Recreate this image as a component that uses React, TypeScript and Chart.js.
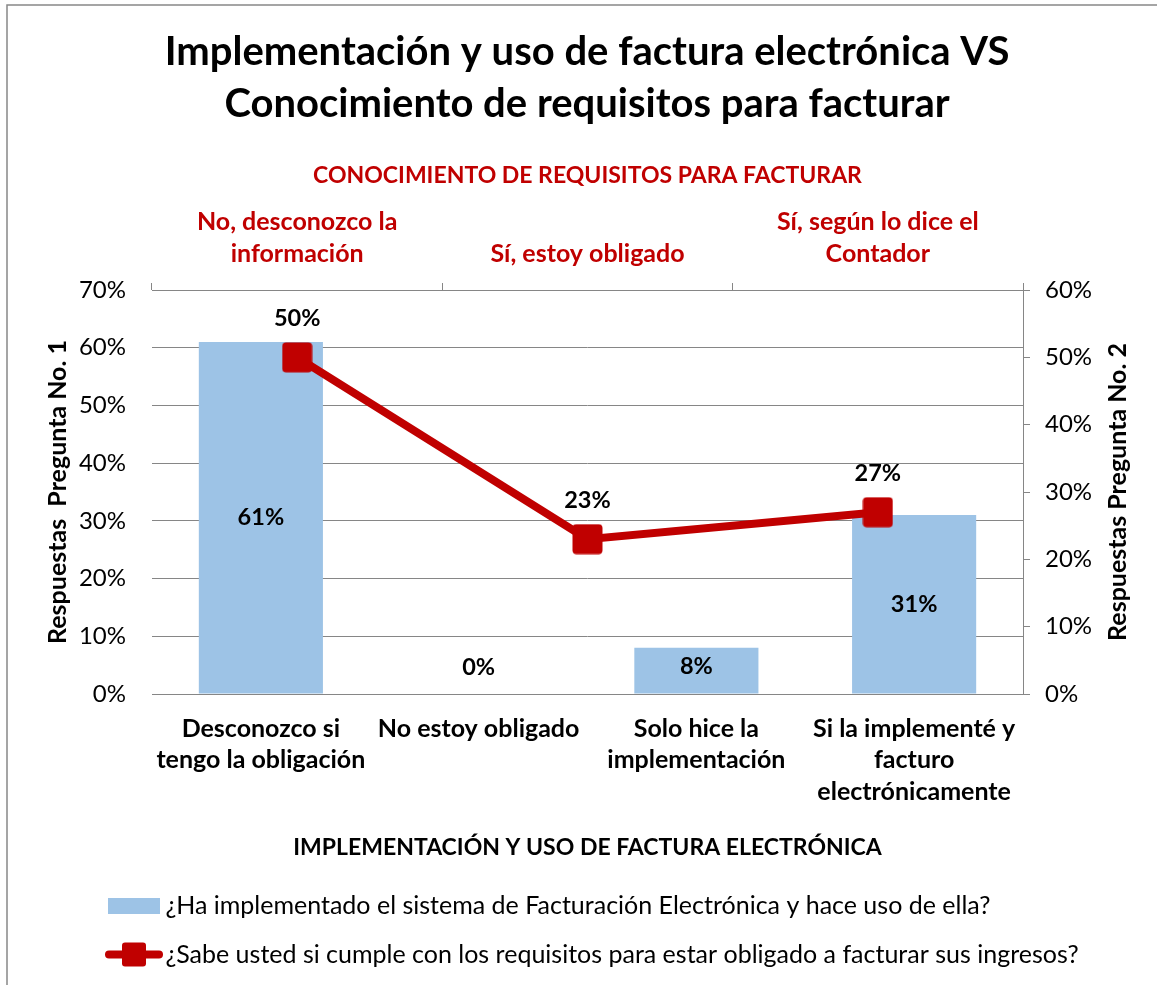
import React, { useEffect, useRef } from 'react';
import { Chart, registerables } from 'chart.js';

Chart.register(...registerables);

// ---------- data ----------
const chartTitle = ['Implementación y uso de factura electrónica VS', 'Conocimiento de requisitos para facturar'];
const barCategories = [
  ['Desconozco si', 'tengo la obligación'],
  ['No estoy obligado'],
  ['Solo hice la', 'implementación'],
  ['Si la implementé y', 'facturo', 'electrónicamente'],
];
const barValues = [61, 0, 8, 31];
const lineCategories = [
  ['No, desconozco la', 'información'],
  ['Sí, estoy obligado'],
  ['Sí, según lo dice el', 'Contador'],
];
const lineValues = [50, 23, 27];
const barSeriesName = '¿Ha implementado el sistema de Facturación Electrónica y hace uso de ella?';
const lineSeriesName = '¿Sabe usted si cumple con los requisitos para estar obligado a facturar sus ingresos?';
const bottomAxisTitle = 'IMPLEMENTACIÓN Y USO DE FACTURA ELECTRÓNICA';
const topAxisTitle = 'CONOCIMIENTO DE REQUISITOS PARA FACTURAR';
const leftAxisTitle = 'Respuestas  Pregunta No. 1';
const rightAxisTitle = 'Respuestas Pregunta No. 2';
const leftAxisMax = 70;
const rightAxisMax = 60;
const axisStep = 10;

// ---------- style ----------
const FONT = "Lato, 'Noto Sans', sans-serif";
const BAR = '#9DC3E6';
const RED = '#C00000';
const GRID = '#868686';
const W = 1157;
const H = 985;

function roundRectPath(ctx: CanvasRenderingContext2D, x: number, y: number, w: number, h: number, r: number) {
  ctx.beginPath();
  ctx.moveTo(x + r, y);
  ctx.lineTo(x + w - r, y);
  ctx.quadraticCurveTo(x + w, y, x + w, y + r);
  ctx.lineTo(x + w, y + h - r);
  ctx.quadraticCurveTo(x + w, y + h, x + w - r, y + h);
  ctx.lineTo(x + r, y + h);
  ctx.quadraticCurveTo(x, y + h, x, y + h - r);
  ctx.lineTo(x, y + r);
  ctx.quadraticCurveTo(x, y, x + r, y);
  ctx.closePath();
}

function makeMarker() {
  const c = document.createElement('canvas');
  c.width = 31;
  c.height = 31;
  const ctx = c.getContext('2d')!;
  ctx.fillStyle = RED;
  roundRectPath(ctx, 0.5, 0.5, 30, 30, 4);
  ctx.fill();
  return c;
}

// legend icons (wide transparent canvas so the symbol sits where the reference has it)
function makeBarIcon() {
  const c = document.createElement('canvas');
  c.width = 136;
  c.height = 27;
  const ctx = c.getContext('2d')!;
  ctx.fillStyle = BAR;
  ctx.fillRect(79, 6, 52, 16);
  return c;
}

function makeLineIcon() {
  const c = document.createElement('canvas');
  c.width = 136;
  c.height = 27;
  const ctx = c.getContext('2d')!;
  ctx.strokeStyle = RED;
  ctx.lineWidth = 8;
  ctx.lineCap = 'round';
  ctx.beginPath();
  ctx.moveTo(80, 13.5);
  ctx.lineTo(130, 13.5);
  ctx.stroke();
  ctx.fillStyle = RED;
  roundRectPath(ctx, 93, 1.5, 24, 24, 3);
  ctx.fill();
  return c;
}

const pct = (v: number | string) => `${v}%`;

const framePlugin = {
  id: 'frame',
  beforeDraw(chart: any) {
    const ctx = chart.ctx;
    ctx.save();
    ctx.fillStyle = '#fff';
    ctx.fillRect(0, 0, chart.width, chart.height);
    ctx.strokeStyle = '#888';
    ctx.lineWidth = 1.5;
    ctx.beginPath();
    ctx.moveTo(7, chart.height + 2);
    ctx.lineTo(7, 5);
    ctx.lineTo(chart.width + 2, 5);
    ctx.stroke();
    ctx.restore();
  },
};

const labelsPlugin = {
  id: 'valueLabels',
  afterDatasetsDraw(chart: any) {
    const ctx = chart.ctx;
    ctx.save();
    ctx.font = `bold 23.5px ${FONT}`;
    ctx.fillStyle = '#000';
    ctx.textAlign = 'center';
    ctx.textBaseline = 'middle';
    const barMeta = chart.getDatasetMeta(0);
    barMeta.data.forEach((bar: any, i: number) => {
      const { x, y, base } = bar.getProps(['x', 'y', 'base'], true);
      const cy = Math.min((y + base) / 2, base - 27);
      ctx.fillText(pct(barValues[i]), x, cy);
    });
    const lineMeta = chart.getDatasetMeta(1);
    lineMeta.data.forEach((pt: any, i: number) => {
      ctx.fillText(pct(lineValues[i]), pt.x, pt.y - 38.5);
    });
    // right axis title, reading bottom-to-top like the reference
    ctx.font = `bold 25px ${FONT}`;
    const y2 = chart.scales.y2;
    const area = chart.chartArea;
    ctx.translate(y2.left + 95, (area.top + area.bottom) / 2);
    ctx.rotate(-Math.PI / 2);
    ctx.fillText(rightAxisTitle, 0, 0);
    ctx.restore();
  },
};

export default function App() {
  const ref = useRef<HTMLCanvasElement>(null);

  useEffect(() => {
    const canvas = ref.current!;
    const marker = makeMarker();
    const icons = [makeBarIcon(), makeLineIcon()];

    const chart = new Chart(canvas, {
      type: 'bar',
      data: {
        labels: barCategories as any,
        datasets: [
          {
            type: 'bar',
            label: barSeriesName,
            data: barValues,
            backgroundColor: BAR,
            borderWidth: 0,
            xAxisID: 'x',
            yAxisID: 'y',
            grouped: false,
            categoryPercentage: 1,
            barPercentage: 0.57,
            order: 2,
          } as any,
          {
            type: 'line',
            label: lineSeriesName,
            data: lineValues,
            borderColor: RED,
            backgroundColor: RED,
            borderWidth: 8,
            pointStyle: marker,
            pointRadius: 15,
            tension: 0,
            fill: false,
            xAxisID: 'x2',
            yAxisID: 'y2',
            order: 1,
          } as any,
        ],
      },
      options: {
        responsive: false,
        animation: false,
        events: [],
        layout: { padding: { left: 17, right: 0, top: 0, bottom: 8 } },
        font: { family: FONT },
        plugins: {
          title: {
            display: true,
            text: chartTitle,
            color: '#000',
            font: { family: FONT, size: 40, weight: 'bold', lineHeight: 1.3 },
            padding: { top: 26, bottom: 10 },
          },
          legend: {
            display: true,
            position: 'bottom',
            align: 'start',
            labels: {
              usePointStyle: true,
              pointStyleWidth: 112,
              padding: 24,
              color: '#000',
              font: { family: FONT, size: 25 },
              generateLabels: (ch: any) =>
                ch.data.datasets.map((ds: any, i: number) => ({
                  text: ds.label,
                  datasetIndex: i,
                  pointStyle: icons[i],
                  fillStyle: 'rgba(0,0,0,0)',
                  strokeStyle: 'rgba(0,0,0,0)',
                  lineWidth: 0,
                  hidden: false,
                  fontColor: '#000',
                })),
            },
          },
          tooltip: { enabled: false },
        },
        scales: {
          x: {
            type: 'category',
            position: 'bottom',
            offset: true,
            grid: { display: false, drawTicks: false },
            border: { display: true, color: GRID, width: 1 },
            ticks: {
              color: '#000',
              font: { family: FONT, size: 25, weight: 'bold', lineHeight: 31.5 / 25 },
              padding: 19,
              maxRotation: 0,
              autoSkip: false,
            },
            title: {
              display: true,
              text: bottomAxisTitle,
              color: '#000',
              font: { family: FONT, size: 23, weight: 'bold', lineHeight: 1.2 },
              padding: { top: 0, bottom: 7.2 },
            },
            afterFit: (s: any) => { s.height = 175; },
          },
          x2: {
            type: 'category',
            position: 'top',
            labels: lineCategories as any,
            offset: true,
            grid: { offset: true, drawOnChartArea: false, drawTicks: true, tickLength: 7, color: GRID },
            border: { display: true, color: GRID, width: 1 },
            ticks: {
              color: RED,
              font: { family: FONT, size: 25, weight: 'bold', lineHeight: 32 / 25 },
              padding: 13,
              maxRotation: 0,
              autoSkip: false,
            },
            title: {
              display: true,
              text: topAxisTitle,
              color: RED,
              font: { family: FONT, size: 23, weight: 'bold', lineHeight: 1.2 },
              padding: { top: 22.2, bottom: 0 },
            },
            afterFit: (s: any) => { s.height = 150; },
          },
          y: {
            position: 'left',
            min: 0,
            max: leftAxisMax,
            ticks: {
              stepSize: axisStep,
              padding: 6,
              color: '#000',
              font: { family: FONT, size: 24 },
              callback: (v: any) => pct(v),
            },
            grid: { color: GRID, drawTicks: true, tickLength: 20, tickColor: 'rgba(0,0,0,0)' },
            border: { display: false },
            title: {
              display: true,
              text: leftAxisTitle,
              color: '#000',
              font: { family: FONT, size: 25, weight: 'bold', lineHeight: 1.2 },
              padding: { top: 26, bottom: 0 },
            },
            afterFit: (s: any) => { s.width = 135; },
          },
          y2: {
            position: 'right',
            min: 0,
            max: rightAxisMax,
            ticks: {
              stepSize: axisStep,
              padding: 15,
              color: '#000',
              font: { family: FONT, size: 24 },
              callback: (v: any) => pct(v),
            },
            grid: { drawOnChartArea: false, drawTicks: true, tickLength: 7, color: GRID },
            border: { display: true, color: GRID, width: 1 },
            afterFit: (s: any) => { s.width = 134; },
          },
        },
      } as any,
      plugins: [framePlugin, labelsPlugin],
    });

    return () => chart.destroy();
  }, []);

  return (
    <div style={{ position: 'fixed', left: 0, top: 0, width: W, height: H, background: '#fff' }}>
      <canvas ref={ref} width={W} height={H} style={{ display: 'block', width: W, height: H }} />
    </div>
  );
}
